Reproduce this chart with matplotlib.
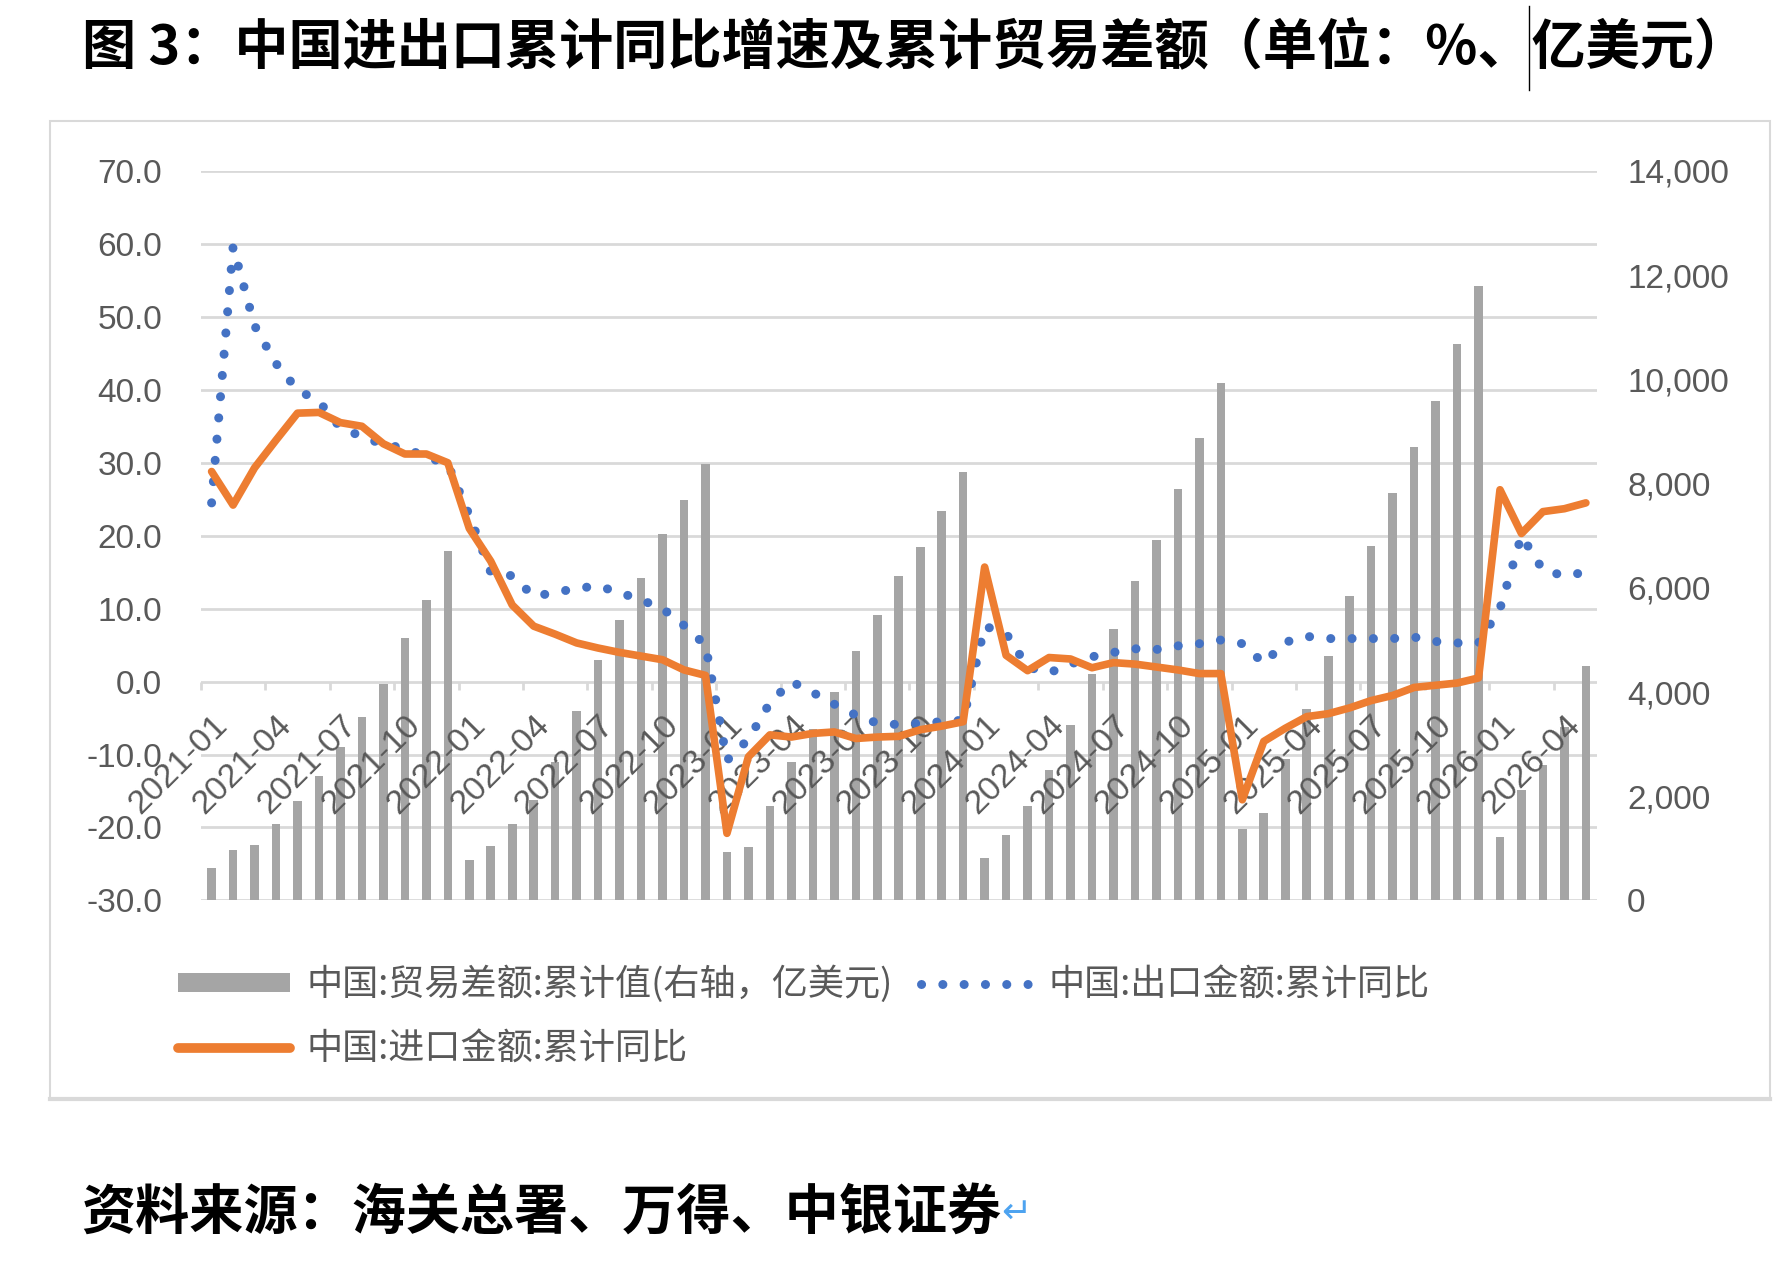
import numpy as np
import pandas as pd
import matplotlib
matplotlib.use('Agg')
import matplotlib.pyplot as plt
from matplotlib.patches import Patch, Rectangle
from matplotlib.lines import Line2D
from matplotlib.ticker import FuncFormatter

# monthly categories, 2021-01 .. 2026-05
months = [p.strftime('%Y-%m') for p in pd.period_range('2021-01', periods=65, freq='M')]

# 中国:贸易差额:累计值 (亿美元, right axis)
trade_balance = [
    614, 959, 1071, 1471, 1899, 2392, 2951, 3528, 4161, 5045, 5762, 6702,
    782, 1052, 1471, 1936, 2650, 3630, 4608, 5390, 6190, 7028, 7680, 8369,
    931, 1033, 1806, 2653, 3295, 3994, 4794, 5474, 6218, 6777, 7466, 8220,
    819, 1247, 1815, 2504, 3361, 4347, 5204, 6125, 6926, 7894, 8871, 9923,
    1378, 1685, 2709, 3668, 4682, 5837, 6796, 7810, 8694, 9579, 10677, 11795,
    1210, 2113, 2607, 3323, 4506,
]

# 中国:出口金额:累计同比 (%)
export_yoy = [
    24.5, 59.6, 48.8, 43.6, 40.0, 38.4, 34.8, 33.6, 32.5, 32.0, 30.8, 29.8,
    22.8, 15.0, 14.5, 11.7, 12.2, 12.8, 13.1, 12.2, 11.2, 10.0, 7.7, 5.0,
    -10.8, -7.9, -2.9, 0.0, -1.5, -3.1, -4.6, -5.7, -5.9, -5.7, -5.5, -5.3,
    7.6, 6.6, 2.0, 1.2, 2.4, 3.4, 4.0, 4.5, 4.4, 4.9, 5.2, 5.7,
    5.2, 2.5, 5.4, 6.2, 5.9, 5.9, 5.9, 5.9, 6.1, 5.5, 5.3, 5.3,
    10.0, 20.0, 15.3, 14.5, 15.0,
]

# 中国:进口金额:累计同比 (%)
import_yoy = [
    28.8, 24.2, 29.3, 33.1, 36.8, 36.9, 35.5, 35.0, 32.6, 31.2, 31.2, 30.0,
    21.0, 16.5, 10.5, 7.6, 6.5, 5.3, 4.6, 4.0, 3.5, 3.0, 1.6, 0.85,
    -20.8, -10.3, -7.3, -7.6, -7.1, -6.9, -7.8, -7.6, -7.5, -6.6, -6.1, -5.5,
    15.7, 3.6, 1.5, 3.3, 3.1, 1.9, 2.6, 2.4, 2.0, 1.6, 1.1, 1.1,
    -16.2, -8.2, -6.4, -4.8, -4.4, -3.6, -2.6, -1.9, -0.8, -0.5, -0.2, 0.5,
    26.3, 20.3, 23.3, 23.7, 24.5,
]

grey = '#A5A5A5'
orange = '#ED7D31'
blue = '#4472C4'
text_grey = '#595959'
grid_grey = '#D9D9D9'

plt.rcParams['font.family'] = ['Liberation Sans', 'Noto Sans CJK SC', 'DejaVu Sans']
cjk = ['Noto Sans CJK SC', 'DejaVu Sans']

x = np.arange(len(months))

fig = plt.figure(figsize=(17.76, 12.72), dpi=100)
ax = fig.add_axes([0.1131, 0.2921, 0.8990 - 0.1131, 0.8656 - 0.2921])

# left axis: gridlines + labels (bottom layer)
ax.set_ylim(-30, 70)
ax.set_yticks(np.arange(-30, 71, 10))
ax.yaxis.set_major_formatter(FuncFormatter(lambda v, p: '%.1f' % v))
ax.grid(axis='y', color=grid_grey, lw=2)
ax.set_axisbelow(True)
ax.tick_params(axis='y', length=0, pad=28, labelsize=24, labelcolor=text_grey)
ax.tick_params(axis='x', which='both', length=0, labelbottom=False)
for s in ax.spines.values():
    s.set_visible(False)

# right axis: bars
ax2 = ax.twinx()
ax2.bar(x, trade_balance, width=0.4, color=grey, zorder=2)
ax2.set_ylim(0, 14000)
ax2.set_yticks(np.arange(0, 14001, 2000))
ax2.yaxis.set_major_formatter(FuncFormatter(lambda v, p: '{:,.0f}'.format(v)))
ax2.tick_params(axis='y', length=0, pad=22, labelsize=24, labelcolor=text_grey)
for s in ax2.spines.values():
    s.set_visible(False)

# top layer: lines + category axis at 0
ax3 = ax.twinx()
ax3.set_ylim(-30, 70)
ax3.yaxis.set_visible(False)
ax3.xaxis.set_visible(True)
ax3.spines['bottom'].set_position(('data', 0))
for s in ax3.spines.values():
    s.set_visible(False)
ax3.plot(x, export_yoy, color=blue, lw=6.5, linestyle=(0, (0.01, 2.35)),
         dash_capstyle='round', zorder=3)
ax3.plot(x, import_yoy, color=orange, lw=5.5, solid_capstyle='round',
         solid_joinstyle='round', zorder=4)
ax3.set_xlim(-0.5, len(months) - 0.5)
ax3.set_xticks(x[::3], labels=months[::3])
ax3.set_xticks(np.arange(-0.5, len(months), 3), minor=True)
ax3.tick_params(axis='x', which='major', length=0, pad=20, labelsize=24.5,
                labelcolor=text_grey, labelrotation=45)
ax3.tick_params(axis='x', which='minor', length=6, width=2, color=grid_grey,
                direction='out')
for lbl in ax3.get_xticklabels():
    lbl.set_ha('right')
    lbl.set_rotation_mode('anchor')

ax.set_zorder(1)
ax2.set_zorder(2)
ax3.set_zorder(3)

# legend
handles = [
    Patch(facecolor=grey, edgecolor='none'),
    Line2D([], [], color=orange, lw=7, solid_capstyle='round'),
    Line2D([], [], color=blue, lw=6.5, linestyle=(0, (0.01, 2.35)), dash_capstyle='round'),
]
labels = ['中国:贸易差额:累计值(右轴，亿美元)', '中国:进口金额:累计同比', '中国:出口金额:累计同比']
fig.legend(handles, labels, ncol=2, loc='upper left', bbox_to_anchor=(0.1005, 0.2406),
           frameon=False, prop={'family': cjk, 'size': 26}, labelcolor=text_grey,
           handlelength=3.1, handleheight=0.45, handletextpad=0.44,
           columnspacing=0.78, labelspacing=0.78, borderpad=0, borderaxespad=0)

# chart frame
fig.add_artist(Rectangle((0.028, 0.1362), 0.9688, 0.7685, transform=fig.transFigure,
                         fill=False, edgecolor=grid_grey, lw=1.5))
fig.add_artist(Line2D([0.028, 0.9968], [0.1362, 0.1362], transform=fig.transFigure,
                      color=grid_grey, lw=3))

# title and source
fig.text(0.0459, 0.9617, '图 3：中国进出口累计同比增速及累计贸易差额（单位：%、亿美元）',
         family=cjk, fontsize=39, fontweight='bold', color='black', va='center', ha='left')
fig.add_artist(Line2D([0.861, 0.861], [1 - 6 / 1272, 1 - 90 / 1272], transform=fig.transFigure,
                      color='black', lw=1))
src = fig.text(0.0459, 0.0463, '资料来源：海关总署、万得、中银证券',
               family=cjk, fontsize=39, fontweight='bold', color='black', va='center', ha='left')
ax.annotate('↵', xy=(1, 0.5), xycoords=src, va='center', ha='left', fontsize=26,
            color='#4DA3F0', family=['DejaVu Sans'], annotation_clip=False)

fig.savefig('out.png', dpi=100)
